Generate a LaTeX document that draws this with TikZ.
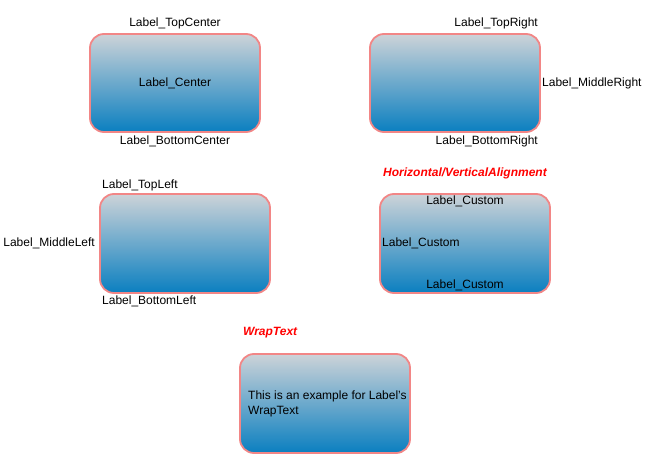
\documentclass[tikz,border=0pt]{standalone}
\usepackage{fontspec}
\setmainfont{Liberation Sans}
\definecolor{boxtop}{HTML}{CDD3D8}
\definecolor{boxbot}{HTML}{0A7FC0}
\definecolor{boxline}{HTML}{F28686}
\tikzset{
  panel/.style={rounded corners=14pt, top color=boxtop, bottom color=boxbot, draw=boxline, line width=1.8pt},
  lbl/.style={inner sep=0pt, font=\fontsize{12}{14}\selectfont, text=black},
  note/.style={inner sep=0pt, font=\fontsize{12}{14}\selectfont\itshape\bfseries, text=red},
}
\begin{document}
\begin{tikzpicture}[x=1pt,y=-1pt]
\useasboundingbox (0,0) rectangle (654,468);
% panels
\path[panel] (90,34) rectangle (260,132);
\path[panel] (370,34) rectangle (540,132);
\path[panel] (100,194) rectangle (270,293);
\path[panel] (380,194) rectangle (550,293);
\path[panel] (240,354) rectangle (410,453);
% box 1
\node[lbl] (tc) at (175,23.5) {Label\_TopCenter};
\node[lbl] (cc) at (175,83.5) {Label\_Center};
\node[lbl] (bc) at (175,141.5) {Label\_BottomCenter};
% box 2
\node[lbl, anchor=east] (tr) at (538,23.5) {Label\_TopRight};
\node[lbl, anchor=west] (mr) at (542,83.5) {Label\_MiddleRight};
\node[lbl, anchor=east] (br) at (538,141.5) {Label\_BottomRight};
% box 3
\node[lbl, anchor=west] (tl) at (102,185.5) {Label\_TopLeft};
\node[lbl, anchor=east] (ml) at (95,243.5) {Label\_MiddleLeft};
\node[lbl, anchor=west] (bl) at (102,301.5) {Label\_BottomLeft};
% box 4
\node[note] (hv) at (465,173.5) {Horizontal/VerticalAlignment};
\node[lbl] (c1) at (465,201.5) {Label\_Custom};
\node[lbl, anchor=west] (c2) at (382,243.5) {Label\_Custom};
\node[lbl] (c3) at (465,285.5) {Label\_Custom};
% box 5
\node[note, anchor=west] (wt) at (243,332.5) {WrapText};
\node[lbl, anchor=west, align=left, font=\fontsize{12}{15}\selectfont] (wrap) at (248,403.5) {This is an example for Label's\\WrapText};
\end{tikzpicture}
\end{document}
